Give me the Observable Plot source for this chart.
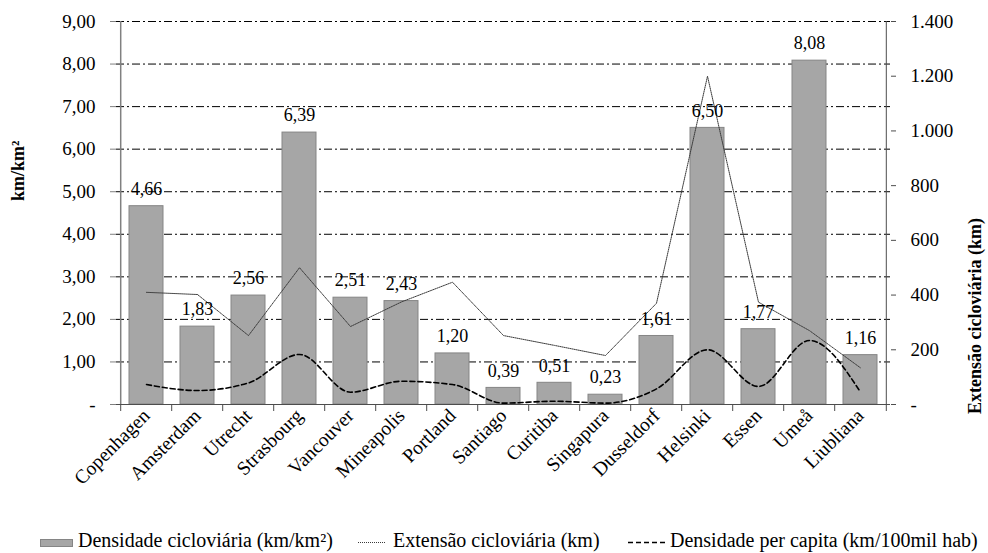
<!DOCTYPE html>
<html>
<head>
<meta charset="utf-8">
<script src="https://cdn.jsdelivr.net/npm/d3@7"></script>
<script src="https://cdn.jsdelivr.net/npm/@observablehq/plot@0.6"></script>
<style>
  html, body { margin: 0; padding: 0; background: #fff; }
  body { width: 988px; height: 553px; overflow: hidden; font-family: 'Liberation Serif', 'Times New Roman', serif; }
  #legend { position: relative; width: 988px; height: 25px; font-size: 20px; color: #000; font-family: 'Liberation Serif', 'Times New Roman', serif; }
  #legend .item { position: absolute; top: 0; height: 25px; line-height: 25px; white-space: nowrap; }
  #legend svg { position: absolute; top: 0; }
  #chart svg text { font-family: 'Liberation Serif', 'Times New Roman', serif; }
</style>
</head>
<body>
<div id="chart"></div>
<div id="legend"></div>
<script>
// ---- data ----
const cities = ["Copenhagen","Amsterdam","Utrecht","Strasbourg","Vancouver","Mineapolis","Portland","Santiago","Curitiba","Singapura","Dusseldorf","Helsinki","Essen","Umeå","Liubliana"];
const densidade = [4.66,1.83,2.56,6.39,2.51,2.43,1.20,0.39,0.51,0.23,1.61,6.50,1.77,8.08,1.16];
const extensao = [410,402,252,500,285,375,447,252,216,179,370,1200,374,270,134];
const perCapita = [73,51,79,183,45,85,73,5,12,5,57,200,66,234,45];
const leftTicks = [0,1,2,3,4,5,6,7,8,9];
const rightTicks = [0,200,400,600,800,1000,1200,1400];
const leftMax = 9, rightMax = 1400;
const seriesNames = ["Densidade cicloviária (km/km²)", "Extensão cicloviária (km)", "Densidade per capita (km/100mil hab)"];
const leftTitle = "km/km²";
const rightTitle = "Extensão cicloviária (km)";

const rows = cities.map((c, i) => ({city: c, dens: densidade[i], ext: extensao[i], pc: perCapita[i]}));
const toLeft = v => v * leftMax / rightMax;

const pt = d3.formatLocale({decimal: ",", thousands: ".", grouping: [3], currency: ["R$", ""]});
const f2 = pt.format(",.2f");
const f0 = pt.format(",.0f");

const W = 988, H = 528, mL = 116, mR = 98, mT = 21, mB = 124;
const step = (W - mL - mR) / cities.length;
const font = "'Liberation Serif', 'Times New Roman', serif";

const chart = Plot.plot({
  width: W, height: H,
  marginLeft: mL, marginRight: mR, marginTop: mT, marginBottom: mB,
  style: {fontFamily: font, background: "white", color: "black"},
  x: {domain: cities, paddingInner: 0.34, paddingOuter: 0.17, axis: null},
  y: {domain: [0, leftMax], axis: null},
  marks: [
    Plot.gridY(leftTicks.filter(d => d > 0), {stroke: "black", strokeOpacity: 1, strokeWidth: 1, strokeDasharray: "8,3,2,3"}),
    Plot.barY(rows, {x: "city", y: "dens", fill: "#a6a6a6", stroke: "#858585", strokeWidth: 1}),
    Plot.line(rows, {x: "city", y: d => toLeft(d.ext), stroke: "#3a3a3a", strokeWidth: 1, strokeDasharray: "1,1"}),
    Plot.line(rows, {x: "city", y: d => toLeft(d.pc), stroke: "black", strokeWidth: 1.6, strokeDasharray: "5,3", curve: "monotone-x"}),
    Plot.text(rows, {x: "city", y: "dens", text: d => f2(d.dens), dy: -17, fontSize: 18, fill: "black", fontFamily: font}),
    // axis lines
    Plot.ruleY([0], {stroke: "#4d4d4d", strokeWidth: 1}),
    Plot.ruleX([cities[0]], {x: d => d, dx: -step / 2, y1: 0, y2: leftMax, stroke: "#808080", strokeWidth: 1.5}),
    Plot.ruleX([cities[cities.length - 1]], {x: d => d, dx: step / 2, y1: 0, y2: leftMax, stroke: "#4d4d4d", strokeWidth: 1}),
    // category boundary ticks
    Plot.ruleX(cities, {x: d => d, dx: -step / 2, y1: 0, y2: 0, insetBottom: -7, stroke: "#4d4d4d"}),
    Plot.ruleX([cities[cities.length - 1]], {x: d => d, dx: step / 2, y1: 0, y2: 0, insetBottom: -7, stroke: "#4d4d4d"}),
    // left axis
    Plot.axisY(leftTicks, {anchor: "left", label: null, tickSize: 6, tickPadding: 15, fontSize: 19, fontFamily: font, stroke: "#808080", fill: "black",
      tickFormat: d => d === 0 ? "-" : f2(d)}),
    // right axis
    Plot.axisY(rightTicks.map(toLeft), {anchor: "right", label: null, tickSize: 5, tickPadding: 15, fontSize: 19, fontFamily: font, stroke: "#4d4d4d", fill: "black",
      tickFormat: d => { const v = Math.round(d * rightMax / leftMax); return v === 0 ? "-" : f0(v); }}),
    // category labels
    Plot.text(cities, {x: d => d, text: d => d, frameAnchor: "bottom", rotate: -45, textAnchor: "end", lineAnchor: "middle",
      dx: 0, dy: 8, fontSize: 19.5, fill: "black", fontFamily: font}),
    // axis titles
    Plot.text([leftTitle], {text: d => d, frameAnchor: "left", rotate: -90, dx: -98, dy: -12, fontSize: 18, fontWeight: "bold", fill: "black", fontFamily: font}),
    Plot.text([rightTitle], {text: d => d, frameAnchor: "right", rotate: -90, dx: 85, dy: 5, fontSize: 18, fontWeight: "bold", fill: "black", fontFamily: font})
  ]
});
document.getElementById("chart").appendChild(chart);

// ---- legend ----
const lg = document.getElementById("legend");
lg.innerHTML = `
  <div class="item" style="left:40px;top:11px;width:33px;height:8px;background:#a6a6a6;border:1px solid #858585;box-sizing:border-box;"></div>
  <div class="item" style="left:78px;">${seriesNames[0]}</div>
  <svg style="left:358px" width="28" height="25"><line x1="0" x2="28" y1="14.5" y2="14.5" stroke="#3a3a3a" stroke-width="1" stroke-dasharray="1,1"/></svg>
  <div class="item" style="left:393px;">${seriesNames[1]}</div>
  <svg style="left:628px" width="38" height="25"><line x1="0" x2="38" y1="14.5" y2="14.5" stroke="black" stroke-width="1.6" stroke-dasharray="5,3"/></svg>
  <div class="item" style="left:670px;">${seriesNames[2]}</div>
`;
</script>
</body>
</html>
